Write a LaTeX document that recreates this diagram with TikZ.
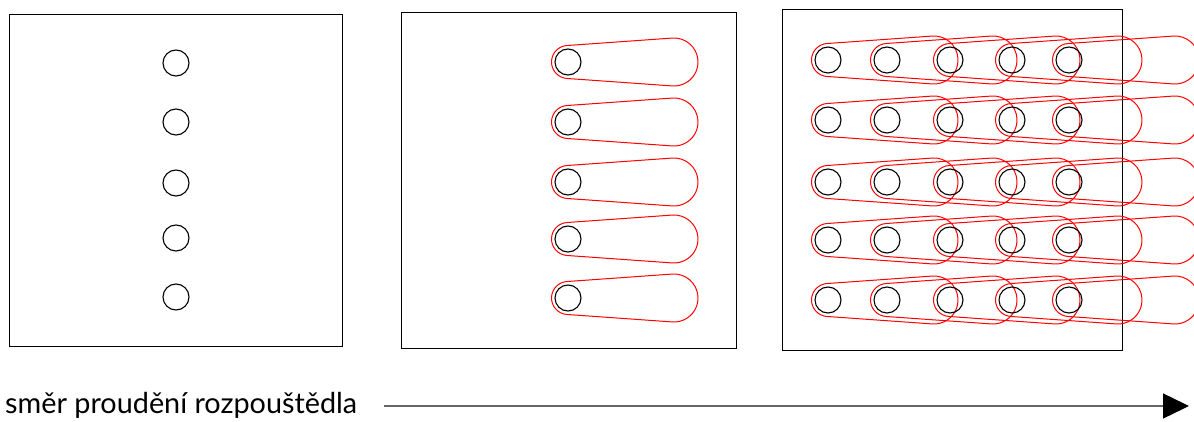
\documentclass[tikz,border=0pt]{standalone}
\usepackage{fontspec}
\setmainfont{Lato}
\usetikzlibrary{calc,arrows.meta}
\tikzset{
  panel/.style={draw=black, line width=1pt},
  hole/.style={circle, draw=black, line width=1.1pt, minimum size=26pt, inner sep=0pt},
  drop/.style={draw=red, line width=1pt},
  flow/.style={draw=black!60, line width=1.4pt, -{Triangle[length=26pt,width=25pt,color=black]}},
  lbl/.style={anchor=base west, inner sep=0pt, font=\fontsize{28.8}{33}\selectfont}
}
\newcommand\tdrop[2]{%
  \draw[drop] ($(#1,#2)+(94.06:16.5)$) -- ($(#1+106,#2)+(94.06:24)$)
    arc[start angle=94.06, end angle=-94.06, radius=24]
    -- ($(#1,#2)+(-94.06:16.5)$)
    arc[start angle=265.94, end angle=94.06, radius=16.5] -- cycle;}
\begin{document}
\begin{tikzpicture}[x=1pt,y=1pt]
\useasboundingbox (0,0) rectangle (1194,421);
% panel 1
\draw[panel] (9,75) rectangle (342,406);
\foreach \y [count=\i] in {358,299,238,183,124}
  \node[hole] (a\i) at (176,\y) {};
% panel 2
\draw[panel] (401,73) rectangle (736,408);
\foreach \y [count=\i] in {359,299,239,182,123}{
  \tdrop{568}{\y}
  \node[hole] (b\i) at (568,\y) {};
}
% panel 3
\draw[panel] (782,71) rectangle (1122,411);
\foreach \y [count=\i] in {361,301,239,181,121}{
  \foreach \x [count=\j] in {828,887,950,1012,1069}{
    \tdrop{\x}{\y}
    \node[hole] (c\i\j) at (\x,\y) {};
  }
}
% label and arrow
\node[lbl] (label) at (5,8) {směr proudění rozpouštědla};
\coordinate (astart) at (384,15);
\coordinate (aend) at (1189,15);
\draw[flow] (astart) -- (aend);
\end{tikzpicture}
\end{document}
